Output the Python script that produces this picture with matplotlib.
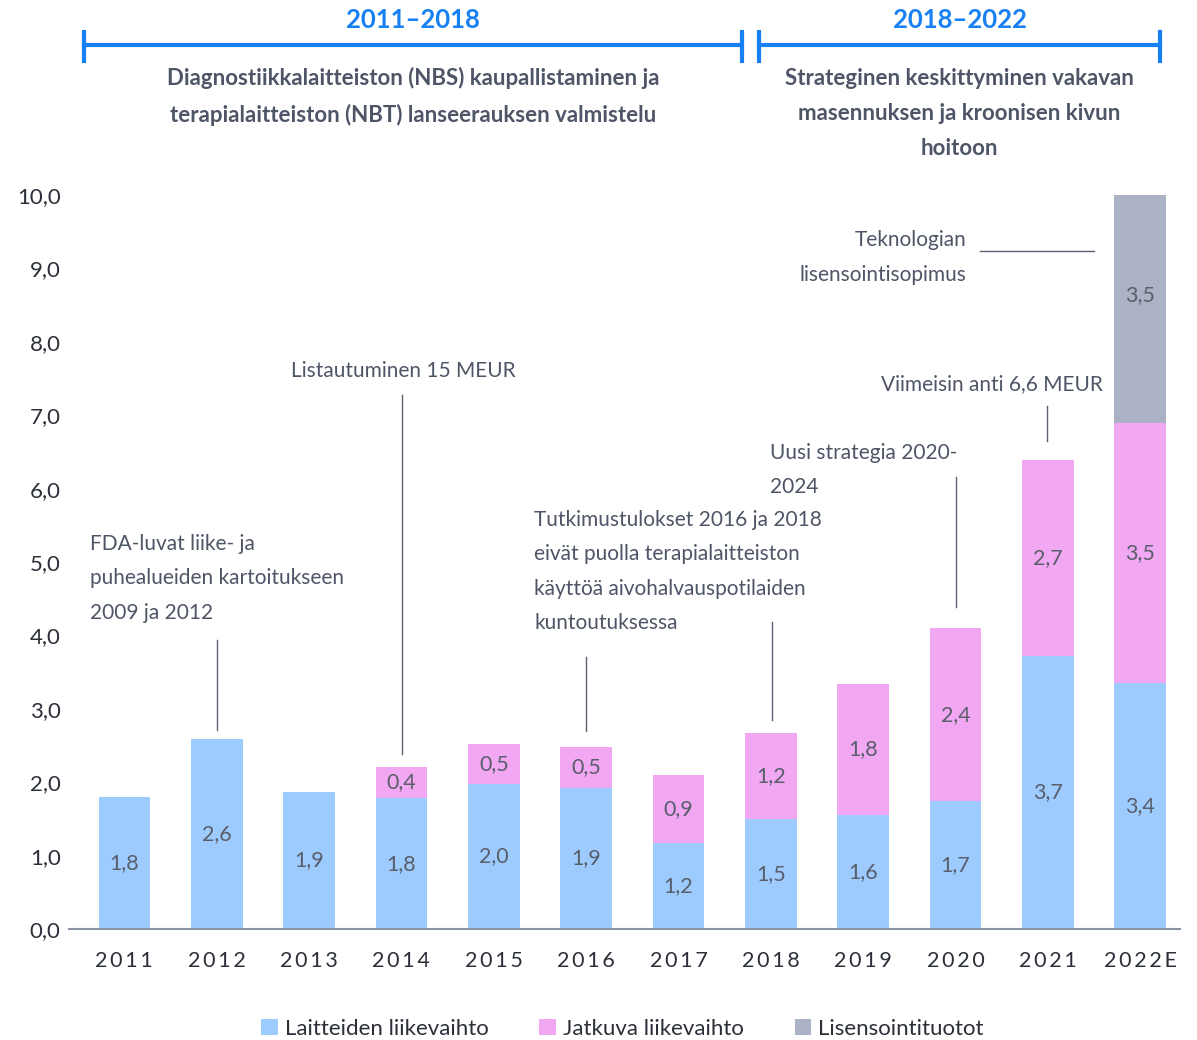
import numpy as np
import matplotlib
matplotlib.use('Agg')
import matplotlib.pyplot as plt

plt.rcParams['font.family'] = ['Lato', 'DejaVu Sans']

years = ['2011', '2012', '2013', '2014', '2015', '2016', '2017', '2018', '2019', '2020', '2021', '2022E']
devices = [1.80, 2.59, 1.87, 1.78, 1.98, 1.92, 1.17, 1.50, 1.55, 1.74, 3.72, 3.35]
recurring = [0.0, 0.0, 0.0, 0.43, 0.54, 0.56, 0.93, 1.17, 1.79, 2.36, 2.67, 3.54]
licensing = [0, 0, 0, 0, 0, 0, 0, 0, 0, 0, 0, 3.5]
device_labels = ['1,8', '2,6', '1,9', '1,8', '2,0', '1,9', '1,2', '1,5', '1,6', '1,7', '3,7', '3,4']
recurring_labels = ['', '', '', '0,4', '0,5', '0,5', '0,9', '1,2', '1,8', '2,4', '2,7', '3,5']
licensing_labels = ['', '', '', '', '', '', '', '', '', '', '', '3,5']
legend_names = ['Laitteiden liikevaihto', 'Jatkuva liikevaihto', 'Lisensointituotot']

c_blue = '#9dcbfd'
c_pink = '#f2a7f2'
c_grey = '#abb2c5'
c_text = '#4e5566'
c_dark = '#2b2f38'
c_head = '#1780f2'

fig = plt.figure(figsize=(11.97, 10.4), dpi=100)
ax = fig.add_axes([0.0576, 0.1067, 0.9282, 0.7058])

x = np.arange(len(years))
w = 0.56
dev = np.array(devices)
rec = np.array(recurring)
lic = np.array(licensing)
b1 = ax.bar(x, dev, w, color=c_blue, label=legend_names[0])
b2 = ax.bar(x, rec, w, bottom=dev, color=c_pink, label=legend_names[1])
b3 = ax.bar(x, lic, w, bottom=dev + rec, color=c_grey, label=legend_names[2])

# labels sit in the middle of the full (unclipped) segment
for bars, labels in [(b1, device_labels), (b2, recurring_labels), (b3, licensing_labels)]:
    for bar, lab in zip(bars, labels):
        if not lab:
            continue
        cy = bar.get_y() + bar.get_height() / 2
        ax.text(bar.get_x() + bar.get_width() / 2, cy, lab, ha='center', va='center',
                fontsize=15.5, color='#585e6a')

ax.set_xlim(-0.6, 11.43)
ax.set_ylim(0, 10)
ax.set_yticks(np.arange(0, 10.5, 1.0))
ax.set_yticklabels([f'{v:.1f}'.replace('.', ',') for v in np.arange(0, 10.5, 1.0)],
                   fontsize=16, color=c_dark)
ax.set_xticks(x)
ax.set_xticklabels(['\u2009'.join(y) for y in years], fontsize=15.5, color=c_dark)
ax.tick_params(axis='both', length=0)
ax.tick_params(axis='x', pad=16)
ax.tick_params(axis='y', pad=6)
for s in ['top', 'right', 'left']:
    ax.spines[s].set_visible(False)
ax.spines['bottom'].set_color('#8a93a3')
ax.spines['bottom'].set_linewidth(1.5)

# annotations
ann = dict(fontsize=15, color=c_text, linespacing=1.9, va='center')
lc = dict(color='#5a6170', lw=1.0, clip_on=False)

ax.text(-0.37, 4.78, 'FDA-luvat liike- ja\npuhealueiden kartoitukseen\n2009 ja 2012', ha='left', **ann)
ax.plot([1.0, 1.0], [2.71, 3.94], **lc)

ax.text(3.02, 7.60, 'Listautuminen 15 MEUR', ha='center', **ann)
ax.plot([3.01, 3.01], [2.38, 7.28], **lc)

ax.text(4.44, 4.87, 'Tutkimustulokset 2016 ja 2018\neivät puolla terapialaitteiston\n'
        'käyttöä aivohalvauspotilaiden\nkuntoutuksessa', ha='left', **ann)
ax.plot([5.0, 5.0], [2.70, 3.71], **lc)
ax.plot([7.01, 7.01], [2.85, 4.18], **lc)

ax.text(6.99, 6.25, 'Uusi strategia 2020-\n2024', ha='left', **ann)
ax.plot([9.0, 9.0], [4.39, 6.16], **lc)

ax.text(10.6, 7.43, 'Viimeisin anti 6,6 MEUR', ha='right', **ann)
ax.plot([9.99, 9.99], [6.65, 7.13], **lc)

ax.text(9.12, 9.15, 'Teknologian\nlisensointisopimus', ha='right', **ann)
ax.plot([9.26, 10.5], [9.24, 9.24], **lc)

# period headers
def fx(px):
    return px / 1197

def fy(py):
    return 1 - py / 1040

for x0, x1, title, sub, ncenter in [
        (84, 742, '2011–2018',
         'Diagnostiikkalaitteiston (NBS) kaupallistaminen ja\nterapialaitteiston (NBT) lanseerauksen valmistelu', 96.5),
        (759, 1160, '2018–2022',
         'Strateginen keskittyminen vakavan\nmasennuksen ja kroonisen kivun\nhoitoon', 113.5)]:
    fig.add_artist(plt.Line2D([fx(x0), fx(x1)], [fy(45), fy(45)], color=c_head, lw=3))
    for xe in (x0, x1):
        fig.add_artist(plt.Line2D([fx(xe), fx(xe)], [fy(32), fy(61)], color=c_head, lw=3))
    xc = fx((x0 + x1) / 2)
    fig.text(xc, fy(20), title, ha='center', va='center', fontsize=18.5,
             fontweight='bold', color=c_head)
    fig.text(xc, fy(ncenter), sub, ha='center', va='center', fontsize=16,
             fontweight='bold', color='#4e5566', linespacing=1.8)

fig.legend(handles=[b1, b2, b3], loc='center', bbox_to_anchor=(0.52, fy(1029)), ncol=3,
           frameon=False, fontsize=16, handlelength=0.75, handleheight=0.75,
           handletextpad=0.3, columnspacing=2.3, labelcolor=c_dark)

fig.savefig('out.png', dpi=100)
